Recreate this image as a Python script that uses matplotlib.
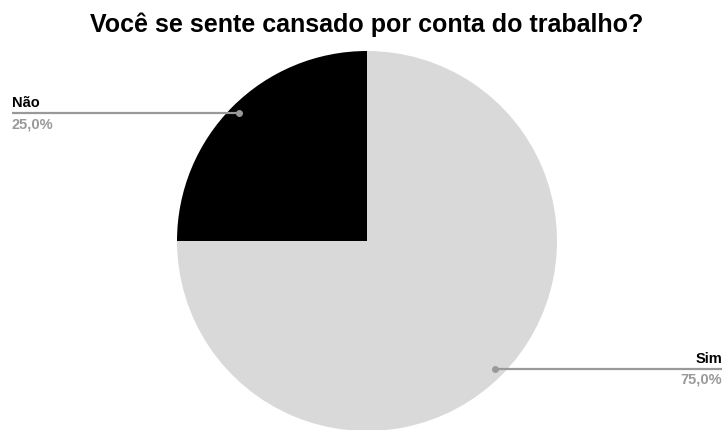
import matplotlib.pyplot as plt
import numpy as np

plt.rcParams['font.family'] = ['Liberation Sans', 'DejaVu Sans']

labels = ["Sim", "Não"]
values = [75.0, 25.0]
colors = ["#d9d9d9", "#000000"]

W, H = 724, 430
fig = plt.figure(figsize=(W / 100, H / 100), dpi=100)
ax = fig.add_axes([0, 0, 1, 1])

cx, cy, r = 367, H - 241, 190
wedges, _ = ax.pie(values, colors=colors, startangle=90, counterclock=False,
                   center=(cx, cy), radius=r, frame=True,
                   wedgeprops=dict(linewidth=0))
ax.set_xlim(0, W)
ax.set_ylim(0, H)
ax.set_aspect('equal')
ax.axis('off')

# leader lines out to the figure edges
for w, lab, val in zip(wedges, labels, values):
    mid = np.deg2rad((w.theta1 + w.theta2) / 2)
    px = cx + 0.95 * r * np.cos(mid)
    py = cy + 0.95 * r * np.sin(mid)
    if np.cos(mid) < 0:
        ex, ha = 12, 'left'
    else:
        ex, ha = 722, 'right'
    ax.plot([px, ex], [py, py], color="#999999", lw=1.6, solid_capstyle='butt')
    ax.plot(px, py, 'o', color="#999999", ms=4)
    ax.text(ex, py + 3, lab, ha=ha, va='bottom', fontsize=10.5,
            fontweight='bold', color="#000000")
    ax.text(ex, py - 4, f"{val:.1f}%".replace('.', ','), ha=ha, va='top',
            fontsize=10.5, fontweight='bold', color="#999999")

fig.text(367 / W, 1 - 25 / H, "Você se sente cansado por conta do trabalho?",
         ha='center', va='center', fontsize=18, fontweight='bold')

fig.savefig("out.png", dpi=100)
